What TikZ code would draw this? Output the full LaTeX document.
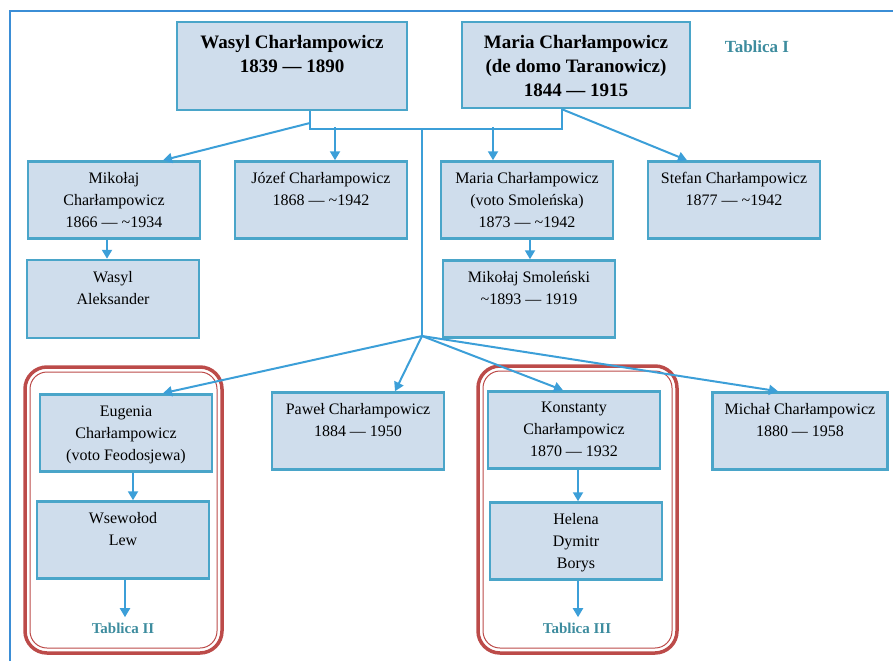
\documentclass[tikz,border=0pt]{standalone}
\usepackage{fontspec}
\setmainfont{Liberation Serif}
\usetikzlibrary{calc,positioning,arrows.meta}
\definecolor{boxfill}{HTML}{CFDDEC}
\definecolor{boxline}{HTML}{4AA5C9}
\definecolor{arrblue}{HTML}{3C9FD8}
\definecolor{frameblue}{HTML}{3B8ED6}
\definecolor{grpred}{HTML}{BC4B49}
\definecolor{tabteal}{HTML}{3D8C9E}
\tikzset{
  box/.style={draw=boxline, fill=boxfill, line width=2.5pt, minimum width=172pt, minimum height=77pt, inner sep=0pt},
  boxtext/.style={label={[anchor=north, yshift=-12pt, inner sep=0pt, align=center, font=\fontsize{16}{22}\selectfont]north:{#1}}},
  toptext/.style={label={[anchor=north, yshift=-14pt, inner sep=0pt, align=center, font=\bfseries\fontsize{19}{24}\selectfont]north:{#1}}},
  conn/.style={draw=arrblue, line width=2pt},
  arr/.style={conn, -{Triangle[width=10pt,length=9pt]}},
  tab/.style={text=tabteal, font=\bfseries\fontsize{15}{18}\selectfont},
  grp/.style={draw=grpred, line width=3.5pt, rounded corners=22pt},
  grpin/.style={draw=grpred, line width=1pt, rounded corners=17pt},
}
\begin{document}
\begin{tikzpicture}[x=1pt,y=-1pt]
  \useasboundingbox (0,0) rectangle (893,661);
  \draw[frameblue, line width=1.5pt] (10,661) -- (10,11) -- (893,11);
  % parents
  \node[box, minimum width=230pt, minimum height=88pt, toptext={Wasyl Charłampowicz\\1839 — 1890}] (wasyl) at (292,66) {};
  \node[box, minimum width=228pt, minimum height=86pt, toptext={Maria Charłampowicz\\(de domo Taranowicz)\\1844 — 1915}] (maria) at (576,65) {};
  \node[tab, font=\bfseries\fontsize{17}{20}\selectfont] (tab1) at (757,47) {Tablica I};
  % children
  \node[box, boxtext={Mikołaj\\Charłampowicz\\1866 — \textasciitilde1934}] (mik) at (114,200) {};
  \node[box, boxtext={Józef Charłampowicz\\1868 — \textasciitilde1942}] (jozef) at (321,200) {};
  \node[box, boxtext={Maria Charłampowicz\\(voto Smoleńska)\\1873 — \textasciitilde1942}] (marias) at (527,200) {};
  \node[box, boxtext={Stefan Charłampowicz\\1877 — \textasciitilde1942}] (stefan) at (734,200) {};
  \node[box, minimum height=78pt, boxtext={Wasyl\\Aleksander}] (wasyla) at (113,299) {};
  \node[box, boxtext={Mikołaj Smoleński\\\textasciitilde1893 — 1919}] (smol) at (529,299) {};
  % groups
  \draw[grp] (25,367) rectangle (222,653);
  \draw[grpin] (30,372) rectangle (217,648);
  \draw[grp] (478,366) rectangle (677,653);
  \draw[grpin] (483,371) rectangle (672,648);
  \node[box, boxtext={Eugenia\\Charłampowicz\\(voto Feodosjewa)}] (eug) at (126,433) {};
  \node[box, boxtext={Paweł Charłampowicz\\1884 — 1950}] (pawel) at (358,431) {};
  \node[box, boxtext={Konstanty\\Charłampowicz\\1870 — 1932}] (konst) at (574,430) {};
  \node[box, minimum width=175pt, boxtext={Michał Charłampowicz\\1880 — 1958}] (michal) at (800,431) {};
  \node[box, boxtext={Wsewołod\\Lew}] (wsew) at (123,540) {};
  \node[box, boxtext={Helena\\Dymitr\\Borys}] (helena) at (576,541) {};
  \node[tab] (tab2) at (123,628) {Tablica II};
  \node[tab] (tab3) at (577,628) {Tablica III};
  % connectors
  \coordinate (barL) at (310,129);
  \coordinate (barR) at (562,129);
  \coordinate (barM) at (422,129);
  \coordinate (hub) at (422,336);
  \draw[conn] (barL |- wasyl.south) -- (barL) -- (barR) -- (barR |- maria.south);
  \draw[conn] (barM) -- (hub);
  \draw[arr] ($(barL)+(0,-6)$) -- ($(mik.north)+(49,0)$);
  \draw[arr] ($(jozef.north)+(14,-33)$) -- ($(jozef.north)+(14,0)$);
  \draw[arr] ($(marias.north)+(-34,-33)$) -- ($(marias.north)+(-34,0)$);
  \draw[arr] (barR |- maria.south) -- ($(stefan.north)+(-47,0)$);
  \draw[arr] ($(mik.south)+(-7,0)$) -- ($(wasyla.north)+(-6,0)$);
  \draw[arr] ($(marias.south)+(3,0)$) -- ($(smol.north)+(1,0)$);
  \draw[arr] (hub) -- ($(eug.north)+(37,0)$);
  \draw[arr] (hub) -- ($(pawel.north)+(37,0)$);
  \draw[arr] (hub) -- ($(konst.north)+(-11,0)$);
  \draw[arr] (hub) -- ($(michal.north)+(-22,0)$);
  \draw[arr] ($(eug.south)+(7,0)$) -- ($(wsew.north)+(10,0)$);
  \draw[arr] ($(wsew.south)+(2,0)$) -- ($(tab2.north)+(2,-2)$);
  \draw[arr] ($(konst.south)+(4,0)$) -- ($(helena.north)+(2,0)$);
  \draw[arr] ($(helena.south)+(2,0)$) -- ($(tab3.north)+(1,-2)$);
\end{tikzpicture}
\end{document}
